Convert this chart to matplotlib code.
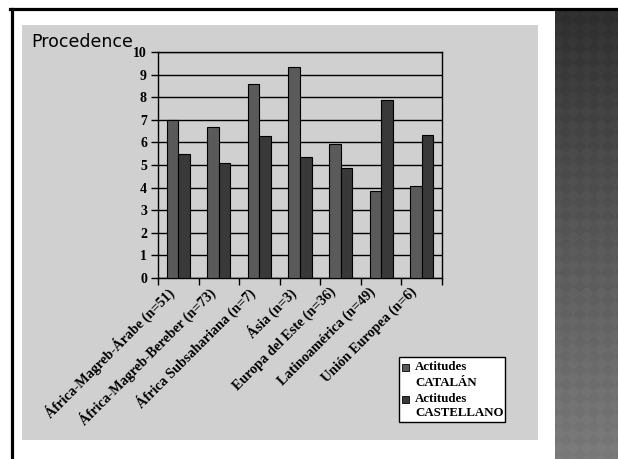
import numpy as np
import matplotlib
matplotlib.use("Agg")
import matplotlib.pyplot as plt
import matplotlib.transforms as mtransforms
from matplotlib.patches import Rectangle
from matplotlib.lines import Line2D

# Data
categories = [
    "África-Magreb-Árabe (n=51)",
    "África-Magreb-Bereber (n=73)",
    "África Subsahariana (n=7)",
    "Ásia (n=3)",
    "Europa del Este (n=36)",
    "Latinoamérica (n=49)",
    "Unión Europea (n=6)",
]
catalan = [7.0, 6.7, 8.6, 9.35, 5.95, 3.85, 4.05]
castellano = [5.5, 5.08, 6.3, 5.35, 4.88, 7.88, 6.33]
series_labels = ["Actitudes\nCATALÁN", "Actitudes\nCASTELLANO"]
series_colors = ["#5a5a5a", "#393939"]
yticks = list(range(0, 11))

W, H = 618, 459
fig = plt.figure(figsize=(W / 100, H / 100), dpi=100)
fig.patch.set_facecolor("white")

def fx(px):
    return px / W

def fy(py):
    return 1 - py / H

# Gray chart background
fig.patches.append(Rectangle((fx(22), fy(440)), fx(538) - fx(22), fy(25) - fy(440),
                             transform=fig.transFigure, facecolor="#d0d0d0",
                             edgecolor="none", zorder=-2))

# Slide frame lines
fig.lines.append(Line2D([fx(10), 1.0], [fy(8.5), fy(8.5)], transform=fig.transFigure,
                        color="black", lw=2.3, zorder=5))
fig.lines.append(Line2D([fx(11.5), fx(11.5)], [fy(8.5), 0.0], transform=fig.transFigure,
                        color="black", lw=2.3, zorder=5))

# Decorative side panel: vertical gradient with a faint diamond pattern
pan = fig.add_axes([fx(555), 0, 1 - fx(555), fy(10)])
ph, pw = 449, 63
yy, xx = np.mgrid[0:ph, 0:pw]
grad = 0.17 + 0.30 * (yy / ph) ** 0.9
u = ((xx + yy) // 14) % 2
v = ((xx - yy + 1000) // 14) % 2
pattern = (u ^ v) * 0.018
img = np.clip(grad + pattern, 0, 1)
pan.imshow(img, cmap="gray", vmin=0, vmax=1, aspect="auto", interpolation="bilinear")
pan.set_axis_off()

# Main plot area
ax = fig.add_axes([fx(158), fy(278), fx(442) - fx(158), fy(52) - fy(278)])
ax.set_facecolor("none")
x = np.arange(len(categories))
bw = 0.285
ax.bar(x - bw / 2, catalan, bw, color=series_colors[0], edgecolor="black", linewidth=0.8,
       zorder=3)
ax.bar(x + bw / 2, castellano, bw, color=series_colors[1], edgecolor="black", linewidth=0.8,
       zorder=3)

ax.set_xlim(-0.5, len(categories) - 0.5)
ax.set_ylim(0, 10)
ax.set_yticks(yticks)
ax.yaxis.grid(True, color="black", linewidth=1.0, zorder=1)
ax.set_axisbelow(True)
for s in ax.spines.values():
    s.set_color("black")
    s.set_linewidth(1.0)

ax.set_yticklabels([str(t) for t in yticks],
                   fontdict={"family": "Liberation Serif", "weight": "bold", "size": 10})
ax.tick_params(axis="y", direction="out", length=5, width=1, pad=3)

ax.set_xticks(x)
ax.set_xticklabels(categories,
                   fontdict={"family": "Liberation Serif", "weight": "bold", "size": 10.2},
                   rotation=45, ha="right", va="top", rotation_mode="anchor")
ax.tick_params(axis="x", which="major", length=0, pad=5)
shift = mtransforms.ScaledTranslation(-12 / 100, 0, fig.dpi_scale_trans)
for lbl in ax.get_xticklabels():
    lbl.set_transform(lbl.get_transform() + shift)
ax.set_xticks(np.arange(-0.5, len(categories), 1.0), minor=True)
ax.tick_params(axis="x", which="minor", direction="out", length=5, width=1)

# Title
fig.text(fx(31), fy(47), "Procedence", fontsize=12.5, family="DejaVu Sans",
         ha="left", va="baseline", color="black")

# Legend box with the swatch beside the first line of each two-line label
fig.patches.append(Rectangle((fx(399), fy(422)), fx(505) - fx(399), fy(357) - fy(422),
                             transform=fig.transFigure, facecolor="white",
                             edgecolor="black", linewidth=1.0, zorder=6))
leg_font = {"family": "Liberation Serif", "weight": "bold", "size": 9.3}
line_y = [367, 383, 399, 413]
for i, (lab, col) in enumerate(zip(series_labels, series_colors)):
    y1 = line_y[2 * i]
    fig.patches.append(Rectangle((fx(402), fy(y1 + 3.5)), fx(7), 7 / H,
                                 transform=fig.transFigure, facecolor=col,
                                 edgecolor="black", linewidth=0.6, zorder=7))
    for j, part in enumerate(lab.split("\n")):
        fig.text(fx(415), fy(line_y[2 * i + j]), part, fontdict=leg_font,
                 ha="left", va="center", zorder=8)

fig.savefig("out.png", dpi=100)
